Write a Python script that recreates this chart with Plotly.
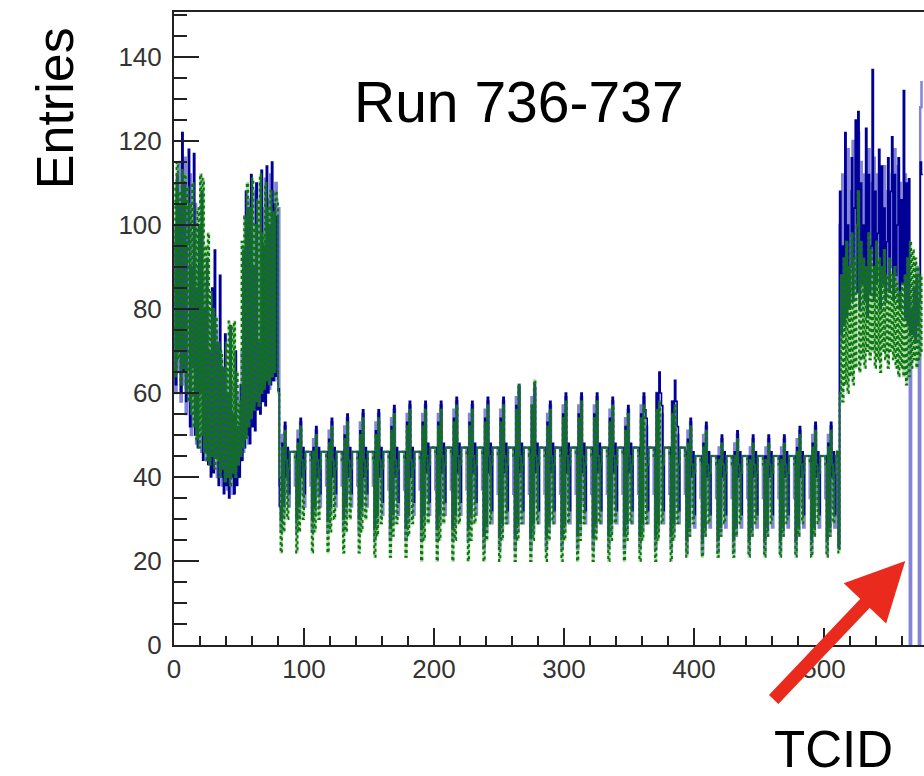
import numpy as np
import plotly.graph_objects as go

# ---------------- data (TCID bins 0..575) ----------------
blue_left = [100,62,112,70,105,60,122,65,110,58,
             96,118,52,90,66,117,50,85,47,100,
             60,108,44,80,46,92,43,70,40,85,
             41,94,45,72,38,88,40,66,36,74,
             38,60,35,76,40,55,36,70,38,52,
             40,62,44,94,47,108,50,104,48,112,
             52,90,51,110,56,72,55,113,58,95,
             57,114,60,100,62,115,63,105,64,102,
             61,33]
blue_mid = [30,48,33,53,40,47,36,46,46,46,46,46,
            30,49,33,54,40,47,36,46,46,46,46,46,
            30,47,33,52,40,47,36,46,46,46,46,46,
            30,49,33,54,40,47,36,46,46,46,46,46,
            30,50,33,55,40,47,36,46,46,46,46,46,
            30,51,33,56,40,47,36,46,46,46,46,46,
            28,51,31,56,40,47,34,46,46,46,46,46,
            28,52,31,57,40,47,34,46,46,46,46,46,
            28,53,31,58,40,47,34,46,46,46,46,46,
            28,53,31,58,41,48,34,47,47,47,47,47,
            28,53,31,58,41,48,34,47,47,47,47,47,
            28,54,31,59,41,48,34,47,47,47,47,47,
            28,53,31,58,41,48,34,47,47,47,47,47,
            26,54,29,59,41,48,32,47,47,47,47,47,
            26,54,29,59,41,48,32,47,47,47,47,47,
            26,57,29,62,41,48,32,47,47,47,47,47,
            26,57,29,62,41,48,32,47,47,47,47,47,
            26,53,29,58,41,48,32,47,47,47,47,47,
            26,55,29,60,41,48,32,47,47,47,47,47,
            26,55,29,60,41,48,32,47,47,47,47,47,
            26,55,29,60,41,48,32,47,47,47,47,47,
            26,54,29,59,41,48,32,47,47,47,47,47,
            26,52,29,57,41,48,32,47,47,47,47,47,
            26,55,29,60,56,54,32,47,47,47,47,47,
            26,60,29,65,60,57,32,47,47,47,47,47,
            26,58,29,63,58,52,32,47,47,47,47,46,
            25,49,28,54,40,46,31,45,45,45,45,45,
            25,48,28,53,40,46,31,45,45,45,45,45,
            25,45,28,50,40,46,31,45,45,45,45,45,
            25,46,28,51,40,46,31,45,45,45,45,45,
            25,45,28,50,40,46,31,45,45,45,45,45,
            25,45,28,50,40,46,31,45,45,45,45,45,
            25,45,28,50,40,46,31,45,45,45,45,45,
            25,47,28,52,40,46,31,45,45,45,45,45,
            25,48,28,53,40,46,31,45,45,45,45,45,
            25,48,28,53,40,46,31,45,46,23]
blue_right = [108,74,95,76,122,78,100,80,90,116,
              82,104,125,84,127,80,110,86,100,82,
              123,78,112,84,95,137,82,108,86,98,
              118,80,114,86,104,82,96,116,84,108,
              121,82,112,88,100,116,80,106,86,132,
              78,110,76,111,74,80,74,85,72,88,
              76,82,115,112]

lav_left = [95,60,108,65,115,58,110,62,116,55,
            104,60,112,50,98,55,105,48,90,52,
            96,46,88,50,86,44,80,48,78,42,
            82,46,75,40,70,44,68,38,62,42,
            65,37,58,40,62,36,55,41,60,40,
            56,44,70,46,92,50,100,48,106,54,
            98,53,108,58,100,57,110,60,104,59,
            111,62,106,61,112,64,108,63,110,66,
            104,38]
lav_mid = [27,50,31,52,36,45,33,46,46,46,46,38,
           27,51,31,53,36,45,33,46,46,46,46,38,
           27,49,31,51,36,45,33,46,46,46,46,38,
           27,51,31,53,36,45,33,46,46,46,46,38,
           27,52,31,54,36,45,33,46,46,46,46,38,
           27,53,31,55,36,45,33,46,46,46,46,38,
           25,53,29,55,35,45,31,46,46,46,46,37,
           25,54,29,56,35,45,31,46,46,46,46,37,
           25,55,29,57,35,45,31,46,46,46,46,37,
           25,55,29,57,35,46,31,47,47,47,47,37,
           25,55,29,57,35,46,31,47,47,47,47,37,
           25,56,29,58,35,46,31,47,47,47,47,37,
           25,55,29,57,35,46,31,47,47,47,47,37,
           23,56,27,58,34,46,29,47,47,47,47,36,
           23,56,27,58,34,46,29,47,47,47,47,36,
           23,59,27,61,34,46,29,47,47,47,47,36,
           23,59,27,61,34,46,29,47,47,47,47,36,
           23,55,27,57,34,46,29,47,47,47,47,36,
           23,57,27,59,34,46,29,47,47,47,47,36,
           23,57,27,59,34,46,29,47,47,47,47,36,
           23,57,27,59,34,46,29,47,47,47,47,36,
           23,56,27,58,34,46,29,47,47,47,47,36,
           23,54,27,56,34,46,29,47,47,47,47,36,
           23,57,27,59,34,52,29,47,47,47,47,36,
           23,60,27,58,34,55,29,47,47,47,47,36,
           23,58,27,57,34,50,29,47,47,47,47,36,
           22,51,26,53,33,44,28,45,45,45,45,35,
           22,50,26,52,33,44,28,45,45,45,45,35,
           22,47,26,49,33,44,28,45,45,45,45,35,
           22,48,26,50,33,44,28,45,45,45,45,35,
           22,47,26,49,33,44,28,45,45,45,45,35,
           22,47,26,49,33,44,28,45,45,45,45,35,
           22,47,26,49,33,44,28,45,45,45,45,35,
           22,49,26,51,33,44,28,45,45,45,45,35,
           22,50,26,52,33,44,28,45,45,45,45,35,
           22,50,26,52,33,44,28,45,46,24]
lav_right = [100,72,112,76,110,80,118,82,108,84,
             120,86,105,88,122,84,115,90,112,86,
             106,82,118,88,110,92,116,84,112,88,
             106,86,110,90,114,84,108,88,104,90,
             112,86,118,84,114,82,110,86,104,88,
             112,80,106,78,0,82,74,86,72,90,
             76,0,128,134]

green_left = [110,64,115,68,108,62,113,66,112,60,
              109,58,105,55,110,52,100,49,104,47,
              112,50,111,46,95,44,98,43,84,45,
              80,42,78,44,72,40,70,42,66,39,
              72,40,77,38,76,41,77,40,65,43,
              58,45,96,47,102,49,110,52,104,54,
              111,56,100,58,106,57,112,60,98,61,
              110,63,104,62,108,64,103,65,108,106,
              60,40]
green_mid = [22,47,27,51,44,30,42,46,46,46,46,44,
             22,48,27,52,44,30,42,46,46,46,46,44,
             22,46,27,50,44,30,42,46,46,46,46,44,
             22,48,27,52,44,30,42,46,46,46,46,44,
             22,49,27,53,44,30,42,46,46,46,46,44,
             22,50,27,54,44,30,42,46,46,46,46,44,
             21,50,26,54,44,29,42,46,46,46,46,44,
             21,51,26,55,44,29,42,46,46,46,46,44,
             21,52,26,56,44,29,42,46,46,46,46,44,
             20,52,25,56,45,29,43,47,47,47,47,45,
             20,52,25,56,45,29,43,47,47,47,47,45,
             20,53,25,57,45,29,43,47,47,47,47,45,
             20,52,25,56,45,29,43,47,47,47,47,45,
             20,53,25,57,45,29,43,47,47,47,47,45,
             20,53,25,57,45,29,43,47,47,47,47,45,
             20,56,25,62,45,29,43,47,47,47,47,45,
             20,57,25,63,45,29,43,47,47,47,47,45,
             20,52,25,56,45,29,43,47,47,47,47,45,
             20,54,25,58,45,29,43,47,47,47,47,45,
             20,54,25,58,45,29,43,47,47,47,47,45,
             20,54,25,58,45,29,43,47,47,47,47,45,
             20,53,25,57,45,29,43,47,47,47,47,45,
             20,51,25,55,45,29,43,47,47,47,47,45,
             20,54,25,57,45,29,43,47,47,47,47,45,
             20,56,25,58,45,29,43,47,47,47,47,45,
             20,55,25,57,45,29,43,47,47,47,47,45,
             21,48,26,52,43,29,41,45,45,45,45,43,
             21,47,26,51,43,29,41,45,45,45,45,43,
             21,44,26,48,43,29,41,45,45,45,45,43,
             21,45,26,49,43,29,41,45,45,45,45,43,
             21,44,26,48,43,29,41,45,45,45,45,43,
             21,44,26,48,43,29,41,45,45,45,45,43,
             21,44,26,48,43,29,41,45,45,45,45,43,
             21,46,26,50,43,29,41,45,45,45,45,43,
             21,47,26,51,43,29,41,45,45,45,45,43,
             21,47,26,51,43,29,41,45,46,22]
green_right = [60,88,58,92,62,96,60,90,64,98,
               62,92,66,100,108,65,96,68,92,66,
               90,70,98,68,94,70,90,66,96,68,
               92,65,90,70,94,68,88,66,92,70,
               88,68,90,66,86,64,84,66,86,64,
               88,62,92,64,96,66,94,68,92,66,
               90,68,88,70]

x_ticks = [0, 100, 200, 300, 400, 500]
y_ticks = [0, 20, 40, 60, 80, 100, 120, 140]

blue = blue_left + blue_mid + blue_right
lav = lav_left + lav_mid + lav_right
green = green_left + green_mid + green_right
assert len(blue) == 576 and len(lav) == 576 and len(green) == 576, (len(blue), len(lav), len(green))

def steps(vals):
    edges = np.arange(len(vals) + 1)
    return edges, list(vals) + [vals[-1]]

fig = go.Figure()
ex, ey = steps(lav)
fig.add_trace(go.Scatter(x=ex, y=ey, mode="lines", line=dict(shape="hv", color="#8484d6", width=2.5)))
ex, ey = steps(blue)
fig.add_trace(go.Scatter(x=ex, y=ey, mode="lines", line=dict(shape="hv", color="#000096", width=1.6)))
ex, ey = steps(green)
fig.add_trace(go.Scatter(x=ex, y=ey, mode="lines", line=dict(shape="hv", color="rgba(90,175,90,0.45)", width=2)))
fig.add_trace(go.Scatter(x=ex, y=ey, mode="lines", line=dict(shape="hv", color="#0a780a", width=2, dash="3px,3px")))

tickfont = dict(family="Liberation Sans, Arial, sans-serif", size=26, color="#333333")
fig.update_xaxes(range=[0, 750 / 1.3], tickvals=x_ticks, ticktext=[str(v) for v in x_ticks],
                 ticks="inside", ticklen=17, tickwidth=2, tickcolor="#222",
                 minor=dict(ticks="inside", dtick=20, ticklen=9, tickwidth=2, tickcolor="#222"),
                 showline=True, linecolor="#222", linewidth=2, mirror=True,
                 showgrid=False, zeroline=False, tickfont=tickfont)
fig.update_yaxes(range=[0, 150.7], tickvals=y_ticks, ticktext=[str(v) for v in y_ticks],
                 ticks="inside", ticklen=25, tickwidth=2, tickcolor="#222",
                 minor=dict(ticks="inside", dtick=5, ticklen=13, tickwidth=2, tickcolor="#222"),
                 showline=True, linecolor="#222", linewidth=2, ticklabelstandoff=5,
                 showgrid=False, zeroline=False, tickfont=tickfont)

fig.add_annotation(text="Run 736-737", xref="paper", yref="paper", x=0.46, y=0.858,
                   xanchor="center", yanchor="middle", showarrow=False,
                   font=dict(family="Liberation Sans, Arial, sans-serif", size=57, color="black"))
fig.add_annotation(text="Entries", xref="paper", yref="paper", x=-0.1587, y=0.848, textangle=-90,
                   xanchor="center", yanchor="middle", showarrow=False,
                   font=dict(family="Liberation Sans, Arial, sans-serif", size=52, color="black"))
fig.add_annotation(text="TCID", xref="paper", yref="paper", x=0.8787, y=-0.165,
                   xanchor="center", yanchor="middle", showarrow=False, borderpad=0,
                   font=dict(family="Liberation Sans, Arial, sans-serif", size=51, color="black"))
fig.add_annotation(text="", x=562.5, y=20, xref="x", yref="y", ax=-133, ay=140,
                   showarrow=True, arrowhead=2, arrowsize=0.9, arrowwidth=13,
                   arrowcolor="#ea2a1c", standoff=0)

fig.update_layout(width=924, height=776, margin=dict(l=174, r=0, t=12, b=131),
                  paper_bgcolor="white", plot_bgcolor="white", showlegend=False)
# remove the page's default body margin so the figure fills the window exactly
fig.write_html("out.html", config={"displayModeBar": False},
               post_script="document.body.style.margin='0px';document.body.style.overflow='hidden';")
